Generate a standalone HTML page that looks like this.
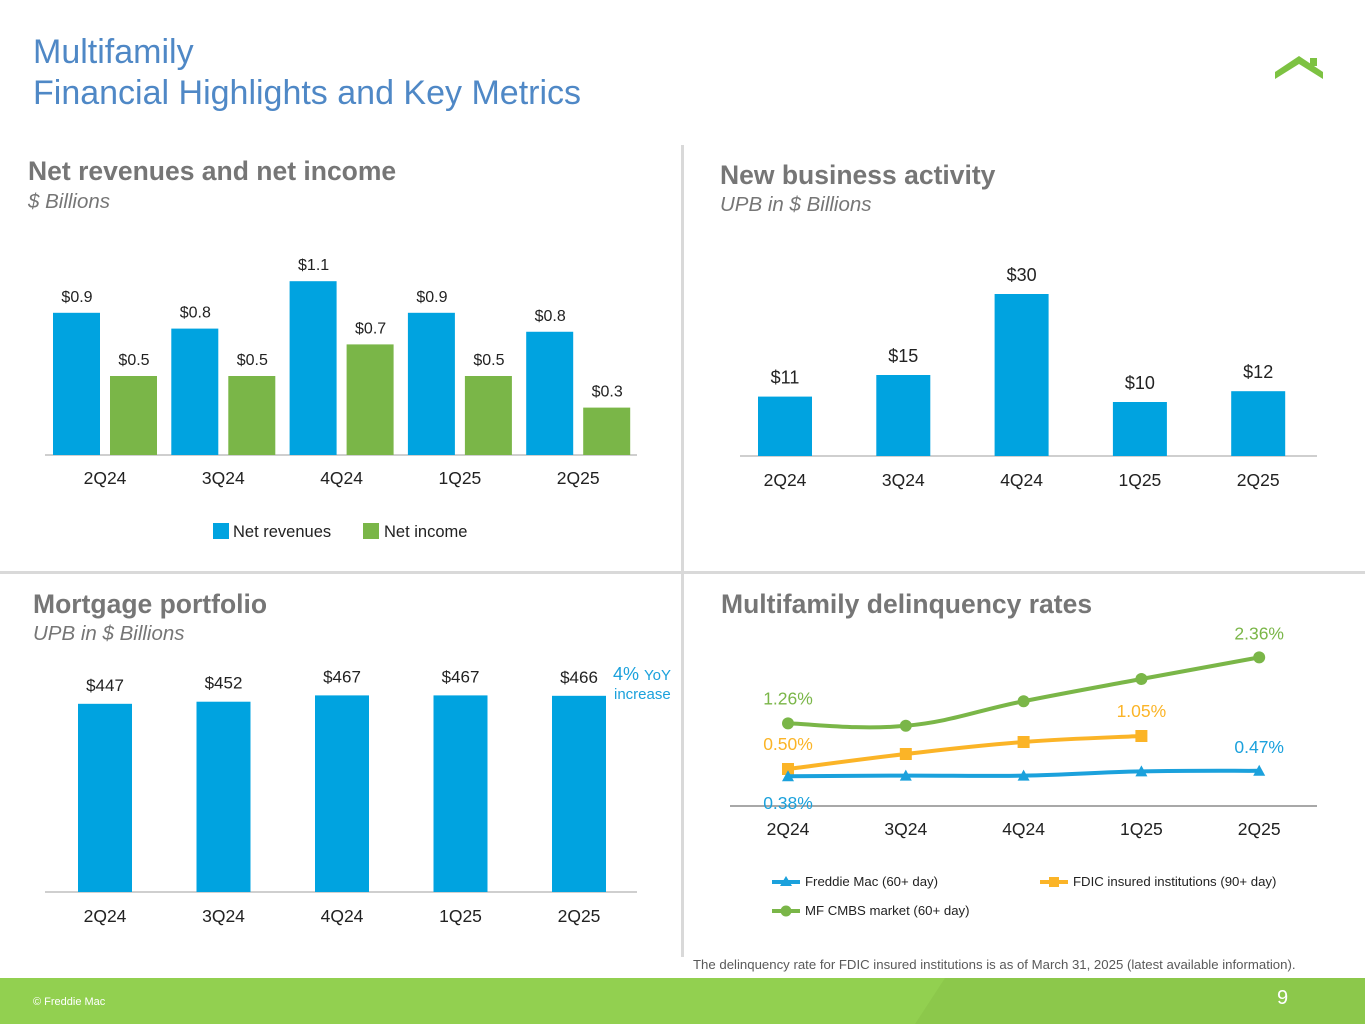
<!DOCTYPE html>
<html><head><meta charset="utf-8">
<style>
html,body{margin:0;padding:0;background:#fff;}
body{width:1365px;height:1024px;overflow:hidden;font-family:"Liberation Sans",Arial,sans-serif;}
svg text{font-family:"Liberation Sans",Arial,sans-serif;}
</style></head>
<body>
<svg id="s" width="1365" height="1024" viewBox="0 0 1365 1024" xmlns="http://www.w3.org/2000/svg">
  <g fill="#4f88c6" font-size="34">
    <text x="33" y="63">Multifamily</text>
    <text x="33" y="104">Financial Highlights and Key Metrics</text>
  </g>
  <g fill="#7dc242">
    <polygon points="1275,72 1299,56 1323,72 1323,79 1299,64 1275,79"/>
    <rect x="1310" y="58" width="7" height="8"/>
  </g>
  <rect x="681" y="145" width="3" height="812" fill="#d9d9d9"/>
  <rect x="0" y="571" width="1365" height="3" fill="#d9d9d9"/>

  <g fill="#767676" font-weight="bold" font-size="26.5">
    <text x="28" y="180">Net revenues and net income</text>
    <text x="720" y="184">New business activity</text>
    <text x="33" y="613">Mortgage portfolio</text>
    <text x="721" y="613">Multifamily delinquency rates</text>
  </g>
  <g fill="#767676" font-style="italic" font-size="20.5">
    <text x="28" y="208">$ Billions</text>
    <text x="720" y="211">UPB in $ Billions</text>
    <text x="33" y="640">UPB in $ Billions</text>
  </g>

  <g id="c1"></g>
  <g id="c2"></g>
  <g id="c3"></g>
  <g id="c4"></g>

  <g font-size="16.5" fill="#222">
    <rect x="213" y="523" width="16" height="16" fill="#00a3e0"/>
    <text x="233" y="537">Net revenues</text>
    <rect x="363" y="523" width="16" height="16" fill="#7ab648"/>
    <text x="384" y="537">Net income</text>
  </g>

  <g fill="#1ba1dc">
    <text x="613" y="680" font-size="18">4% <tspan font-size="15">YoY</tspan></text>
    <text x="614" y="699" font-size="15">increase</text>
  </g>

  <g font-size="13.2" fill="#222">
    <line x1="772" y1="882" x2="800" y2="882" stroke="#1ba1dc" stroke-width="4"/>
    <polygon points="786,876 792,886 780,886" fill="#1ba1dc"/>
    <text x="805" y="886">Freddie Mac (60+ day)</text>
    <line x1="1040" y1="882" x2="1068" y2="882" stroke="#fbb427" stroke-width="4"/>
    <rect x="1049" y="877" width="10" height="10" fill="#fbb427"/>
    <text x="1073" y="886">FDIC insured institutions (90+ day)</text>
    <line x1="772" y1="911" x2="800" y2="911" stroke="#7ab648" stroke-width="4"/>
    <circle cx="786" cy="911" r="5.5" fill="#7ab648"/>
    <text x="805" y="915">MF CMBS market (60+ day)</text>
  </g>

  <text x="693" y="969" font-size="13.2" fill="#595959">The delinquency rate for FDIC insured institutions is as of March 31, 2025 (latest available information).</text>

  <g>
    <rect x="0" y="978" width="1365" height="46" fill="#92d050"/>
    <polygon points="945,978 1365,978 1365,1024 915,1024" fill="#8cc84b"/>
    <text x="33" y="1005" font-size="11" fill="#fff">© Freddie Mac</text>
    <text x="1277" y="1004" font-size="20" fill="#fff">9</text>
  </g>
</svg>
<script>
const quarters = ["2Q24","3Q24","4Q24","1Q25","2Q25"];
const netRevenues = [0.9, 0.8, 1.1, 0.9, 0.78];
const netRevenueLabels = ["$0.9","$0.8","$1.1","$0.9","$0.8"];
const netIncome = [0.5, 0.5, 0.7, 0.5, 0.3];
const netIncomeLabels = ["$0.5","$0.5","$0.7","$0.5","$0.3"];
const newBusiness = [11, 15, 30, 10, 12];
const newBusinessLabels = ["$11","$15","$30","$10","$12"];
const portfolio = [447, 452, 467, 467, 466];
const portfolioLabels = ["$447","$452","$467","$467","$466"];
const freddieRates = [0.38, 0.39, 0.39, 0.46, 0.47];
const fdicRates = [0.50, 0.75, 0.95, 1.05];
const cmbsRates = [1.26, 1.22, 1.63, 2.00, 2.36];

const NS = "http://www.w3.org/2000/svg";
function mk(parent, tag, attrs, text){
  const e = document.createElementNS(NS, tag);
  for (const k in attrs) e.setAttribute(k, attrs[k]);
  if (text !== undefined) e.textContent = text;
  parent.appendChild(e);
  return e;
}
const BLUE="#00a3e0", GREEN="#7ab648";

// Chart 1
(function(){
  const g = document.getElementById("c1");
  const base = 455, scale = 158, x0 = 105, step = 118.3;
  const xC = i => x0 + i*step, y = v => base - v*scale;
  mk(g,"line",{x1:45,y1:base,x2:637,y2:base,stroke:"#bfbfbf","stroke-width":1.5});
  quarters.forEach((q,i)=>{
    let r = mk(g,"rect",{x:xC(i)-52,y:y(netRevenues[i]),width:47,height:netRevenues[i]*scale,fill:BLUE});
    
    
    let r2 = mk(g,"rect",{x:xC(i)+5,y:y(netIncome[i]),width:47,height:netIncome[i]*scale,fill:GREEN});
    
    
    let t1 = mk(g,"text",{x:xC(i)-28,y:y(netRevenues[i])-11,"text-anchor":"middle","font-size":16,fill:"#222"},netRevenueLabels[i]);
    
    
    let t2 = mk(g,"text",{x:xC(i)+29,y:y(netIncome[i])-11,"text-anchor":"middle","font-size":16,fill:"#222"},netIncomeLabels[i]);
    
    
    let t3 = mk(g,"text",{x:xC(i),y:484,"text-anchor":"middle","font-size":17.5,fill:"#222"},q);
    
    
  });
})();

// Chart 2
(function(){
  const g = document.getElementById("c2");
  const base = 456, scale = 5.4, x0 = 785, step = 118.3;
  const xC = i => x0 + i*step, y = v => base - v*scale;
  mk(g,"line",{x1:740,y1:base,x2:1317,y2:base,stroke:"#bfbfbf","stroke-width":1.5});
  quarters.forEach((q,i)=>{
    let r = mk(g,"rect",{x:xC(i)-27,y:y(newBusiness[i]),width:54,height:newBusiness[i]*scale,fill:BLUE});
    
    
    let t = mk(g,"text",{x:xC(i),y:y(newBusiness[i])-13,"text-anchor":"middle","font-size":18,fill:"#222"},newBusinessLabels[i]);
    
    
    let t3 = mk(g,"text",{x:xC(i),y:486,"text-anchor":"middle","font-size":17.5,fill:"#222"},q);
    
    
  });
})();

// Chart 3
(function(){
  const g = document.getElementById("c3");
  const base = 892, scale = 0.421, x0 = 105, step = 118.5;
  const xC = i => x0 + i*step, y = v => base - v*scale;
  mk(g,"line",{x1:45,y1:base,x2:637,y2:base,stroke:"#bfbfbf","stroke-width":1.5});
  quarters.forEach((q,i)=>{
    let r = mk(g,"rect",{x:xC(i)-27,y:y(portfolio[i]),width:54,height:portfolio[i]*scale,fill:BLUE});
    
    
    let t = mk(g,"text",{x:xC(i),y:y(portfolio[i])-13,"text-anchor":"middle","font-size":17,fill:"#222"},portfolioLabels[i]);
    
    
    let t3 = mk(g,"text",{x:xC(i),y:922,"text-anchor":"middle","font-size":17.5,fill:"#222"},q);
    
    
  });
})();

// Chart 4
(function(){
  const g = document.getElementById("c4");
  const zero = 799, scale = 60, x0 = 788, step = 117.8;
  const xC = i => x0 + i*step, y = v => zero - v*scale;
  mk(g,"line",{x1:730,y1:806,x2:1317,y2:806,stroke:"#8c8c8c","stroke-width":1.5});
  quarters.forEach((q,i)=>{
    let t3 = mk(g,"text",{x:xC(i),y:835,"text-anchor":"middle","font-size":17.5,fill:"#222"},q);
    
    
  });
  function smooth(pts){
    let d = "M"+pts[0][0]+","+pts[0][1];
    for(let i=0;i<pts.length-1;i++){
      const p0=pts[i-1]||pts[i], p1=pts[i], p2=pts[i+1], p3=pts[i+2]||p2, t=0.2;
      d += " C"+(p1[0]+(p2[0]-p0[0])*t)+","+(p1[1]+(p2[1]-p0[1])*t)+" "+(p2[0]-(p3[0]-p1[0])*t)+","+(p2[1]-(p3[1]-p1[1])*t)+" "+p2[0]+","+p2[1];
    }
    return d;
  }
  const series = [
    {vals:cmbsRates,color:GREEN,name:"cmbs",shape:"circle"},
    {vals:fdicRates,color:"#fbb427",name:"fdic",shape:"square"},
    {vals:freddieRates,color:"#1ba1dc",name:"freddie",shape:"triangle"}
  ];
  series.forEach(s=>{
    const pts = s.vals.map((v,i)=>[xC(i),y(v)]);
    let p = mk(g,"path",{d:smooth(pts),fill:"none",stroke:s.color,"stroke-width":4});
    
    
    pts.forEach(pt=>{
      let m;
      if(s.shape==="circle") m = mk(g,"circle",{cx:pt[0],cy:pt[1],r:6,fill:s.color});
      else if(s.shape==="square") m = mk(g,"rect",{x:pt[0]-6,y:pt[1]-6,width:12,height:12,fill:s.color});
      else m = mk(g,"polygon",{points:(pt[0])+","+(pt[1]-6)+" "+(pt[0]+6)+","+(pt[1]+5)+" "+(pt[0]-6)+","+(pt[1]+5),fill:s.color});
      
      
    });
  });
  const fmt = v => v.toFixed(2)+"%";
  const labels = [
    [xC(0), y(cmbsRates[0])-19, fmt(cmbsRates[0]), GREEN],
    [xC(4), y(cmbsRates[4])-18, fmt(cmbsRates[4]), GREEN],
    [xC(0), y(fdicRates[0])-19, fmt(fdicRates[0]), "#fbb427"],
    [xC(3), y(fdicRates[3])-19, fmt(fdicRates[3]), "#fbb427"],
    [xC(4), y(freddieRates[4])-18, fmt(freddieRates[4]), "#1ba1dc"],
    [xC(0), y(freddieRates[0])+33, fmt(freddieRates[0]), "#1ba1dc"]
  ];
  labels.forEach(l=>{
    let t = mk(g,"text",{x:l[0],y:l[1],"text-anchor":"middle","font-size":17.5,fill:l[3]},l[2]);
    
    
  });
})();
</script>
</body></html>
